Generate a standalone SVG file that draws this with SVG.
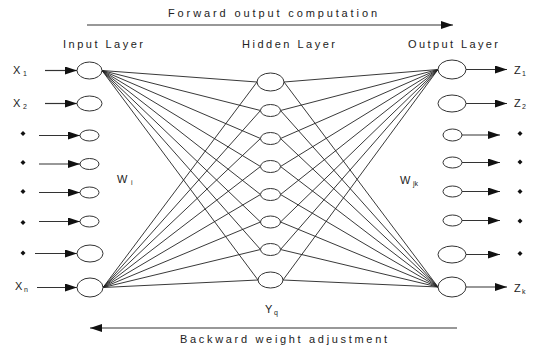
<svg xmlns="http://www.w3.org/2000/svg" width="536" height="349" viewBox="0 0 536 349">
<defs>
<style>
.t{font-family:"Liberation Sans",Arial,sans-serif;font-size:11px;fill:#222}
.s{font-family:"Liberation Sans",Arial,sans-serif;font-size:7px;fill:#222}
.n{fill:#fff;stroke:#333;stroke-width:1}
.c{stroke:#222;stroke-width:0.9;fill:none}
.a{stroke:#333;stroke-width:1.2;fill:none}
.d{fill:#111}
</style>
<marker id="ah" viewBox="0 0 12 8" refX="12" refY="4" markerWidth="12" markerHeight="8" markerUnits="userSpaceOnUse" orient="auto">
<path d="M0,0 L12,4 L0,8 Z" fill="#111"/>
</marker>
</defs>
<rect width="536" height="349" fill="#fff"/>

<g id="labels">
<text class="t" x="168" y="17" textLength="209" lengthAdjust="spacing">Forward output computation</text>
<text class="t" x="63" y="48" textLength="80" lengthAdjust="spacing">Input Layer</text>
<text class="t" x="242" y="48" textLength="93" lengthAdjust="spacing">Hidden Layer</text>
<text class="t" x="408" y="48" textLength="90" lengthAdjust="spacing">Output Layer</text>
<text class="t" x="180" y="343" textLength="207" lengthAdjust="spacing">Backward weight adjustment</text>
<text class="t" x="117" y="183">W</text><text class="s" x="131" y="185">i</text>
<text class="t" x="400" y="184">W</text><text class="s" x="413" y="186">jk</text>
<text class="t" x="265" y="313">Y</text><text class="s" x="274" y="315">q</text>
</g>

<g id="connectors">
<line class="a" x1="87" y1="25" x2="453" y2="25" marker-end="url(#ah)"/>
<line class="a" x1="457" y1="328" x2="90" y2="328" marker-end="url(#ah)"/>
<!-- input arrows -->
<line class="a" x1="45" y1="70.5" x2="77" y2="70.5" marker-end="url(#ah)"/>
<line class="a" x1="45" y1="103.5" x2="77" y2="103.5" marker-end="url(#ah)"/>
<line class="a" x1="39" y1="135.5" x2="80" y2="135.5" marker-end="url(#ah)"/>
<line class="a" x1="39" y1="164" x2="80" y2="164" marker-end="url(#ah)"/>
<line class="a" x1="39" y1="192.5" x2="80" y2="192.5" marker-end="url(#ah)"/>
<line class="a" x1="39" y1="221.5" x2="80" y2="221.5" marker-end="url(#ah)"/>
<line class="a" x1="35" y1="253.5" x2="77" y2="253.5" marker-end="url(#ah)"/>
<line class="a" x1="37" y1="287.5" x2="77" y2="287.5" marker-end="url(#ah)"/>
<!-- output arrows -->
<line class="a" x1="466" y1="69.5" x2="507" y2="69.5" marker-end="url(#ah)"/>
<line class="a" x1="466" y1="103.5" x2="507" y2="103.5" marker-end="url(#ah)"/>
<line class="a" x1="462" y1="135" x2="500" y2="135" marker-end="url(#ah)"/>
<line class="a" x1="462" y1="162.5" x2="500" y2="162.5" marker-end="url(#ah)"/>
<line class="a" x1="462" y1="191.5" x2="500" y2="191.5" marker-end="url(#ah)"/>
<line class="a" x1="462" y1="220.5" x2="500" y2="220.5" marker-end="url(#ah)"/>
<line class="a" x1="466" y1="254.5" x2="500" y2="254.5" marker-end="url(#ah)"/>
<line class="a" x1="466" y1="287" x2="507" y2="287" marker-end="url(#ah)"/>
<!-- X1 to hidden -->
<path class="c" d="M102,70.5 L257,82 M102,70.5 L260.5,110.5 M102,70.5 L260.5,138.5 M102,70.5 L260.5,166.5 M102,70.5 L260.5,194.5 M102,70.5 L260.5,222 M102,70.5 L260.5,249.5 M102,70.5 L258,280"/>
<!-- Xn to hidden -->
<path class="c" d="M103,287.5 L257,82 M103,287.5 L260.5,110.5 M103,287.5 L260.5,138.5 M103,287.5 L260.5,166.5 M103,287.5 L260.5,194.5 M103,287.5 L260.5,222 M103,287.5 L260.5,249.5 M103,287.5 L258,280"/>
<!-- hidden to Z1 -->
<path class="c" d="M284,82 L438,69.5 M280.5,110.5 L438,69.5 M280.5,138.5 L438,69.5 M280.5,166.5 L438,69.5 M280.5,194.5 L438,69.5 M280.5,222 L438,69.5 M280.5,249.5 L438,69.5 M283,280 L438,69.5"/>
<!-- hidden to Zk -->
<path class="c" d="M284,82 L438,287 M280.5,110.5 L438,287 M280.5,138.5 L438,287 M280.5,166.5 L438,287 M280.5,194.5 L438,287 M280.5,222 L438,287 M280.5,249.5 L438,287 M283,280 L438,287"/>
</g>

<g id="input-layer">
<g id="x1"><ellipse class="n" cx="89.5" cy="70.5" rx="12.5" ry="8.5"/><text class="t" x="13" y="74">X</text><text class="s" x="23" y="76">1</text></g>
<g id="x2"><ellipse class="n" cx="89.5" cy="103.5" rx="12.5" ry="7.5"/><text class="t" x="13" y="107">X</text><text class="s" x="23" y="109">2</text></g>
<g id="x3"><ellipse class="n" cx="89.5" cy="135.5" rx="9.5" ry="5.5"/><path class="d" d="M23,131 L25.5,133.5 L23,136 L20.5,133.5 Z"/></g>
<g id="x4"><ellipse class="n" cx="89.5" cy="164" rx="9.5" ry="5.5"/><path class="d" d="M23,160 L25.5,162.5 L23,165 L20.5,162.5 Z"/></g>
<g id="x5"><ellipse class="n" cx="89.5" cy="192.5" rx="9.5" ry="5.5"/><path class="d" d="M23,189 L25.5,191.5 L23,194 L20.5,191.5 Z"/></g>
<g id="x6"><ellipse class="n" cx="89.5" cy="221.5" rx="9.5" ry="5.5"/><path class="d" d="M23,220 L25.5,222.5 L23,225 L20.5,222.5 Z"/></g>
<g id="x7"><ellipse class="n" cx="90" cy="253.5" rx="13" ry="8.5"/><path class="d" d="M23,250.5 L25.5,253 L23,255.5 L20.5,253 Z"/></g>
<g id="xn"><ellipse class="n" cx="90" cy="287.5" rx="13" ry="9.5"/><text class="t" x="15" y="290">X</text><text class="s" x="24" y="292">n</text></g>
</g>

<g id="hidden-layer">
<g id="h1"><ellipse class="n" cx="270.5" cy="82" rx="13.5" ry="9"/></g>
<g id="h2"><ellipse class="n" cx="270.5" cy="110.5" rx="10" ry="6"/></g>
<g id="h3"><ellipse class="n" cx="270.5" cy="138.5" rx="10" ry="6"/></g>
<g id="h4"><ellipse class="n" cx="270.5" cy="166.5" rx="10" ry="6"/></g>
<g id="h5"><ellipse class="n" cx="270.5" cy="194.5" rx="10" ry="6"/></g>
<g id="h6"><ellipse class="n" cx="270.5" cy="222" rx="10" ry="6"/></g>
<g id="h7"><ellipse class="n" cx="270.5" cy="249.5" rx="10" ry="6"/></g>
<g id="h8"><ellipse class="n" cx="270.5" cy="280" rx="12.5" ry="8"/></g>
</g>

<g id="output-layer">
<g id="z1"><ellipse class="n" cx="452" cy="69.5" rx="14" ry="9.5"/><text class="t" x="514" y="74">Z</text><text class="s" x="522" y="76">1</text></g>
<g id="z2"><ellipse class="n" cx="452" cy="103.5" rx="14" ry="8.5"/><text class="t" x="514" y="107">Z</text><text class="s" x="522" y="109">2</text></g>
<g id="z3"><ellipse class="n" cx="452.5" cy="135" rx="9.5" ry="6"/><path class="d" d="M520,131 L522.5,133.5 L520,136 L517.5,133.5 Z"/></g>
<g id="z4"><ellipse class="n" cx="452.5" cy="162.5" rx="9.5" ry="5.5"/><path class="d" d="M520,159.5 L522.5,162 L520,164.5 L517.5,162 Z"/></g>
<g id="z5"><ellipse class="n" cx="452.5" cy="191.5" rx="9.5" ry="5.5"/><path class="d" d="M520,189 L522.5,191.5 L520,194 L517.5,191.5 Z"/></g>
<g id="z6"><ellipse class="n" cx="452.5" cy="220.5" rx="9.5" ry="5.5"/><path class="d" d="M520,218.5 L522.5,221 L520,223.5 L517.5,221 Z"/></g>
<g id="z7"><ellipse class="n" cx="452" cy="254.5" rx="14" ry="8.5"/><path class="d" d="M520,251 L522.5,253.5 L520,256 L517.5,253.5 Z"/></g>
<g id="zk"><ellipse class="n" cx="452" cy="287" rx="14" ry="10"/><text class="t" x="514" y="292">Z</text><text class="s" x="522" y="294">k</text></g>
</g>
</svg>
